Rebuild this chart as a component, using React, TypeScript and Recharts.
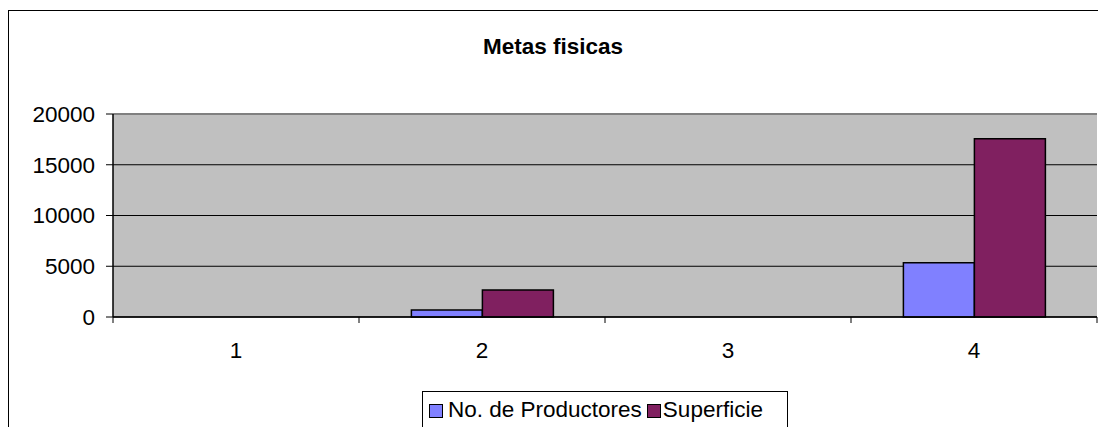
import React from "react";
import { BarChart, Bar, XAxis, YAxis, CartesianGrid, ReferenceLine } from "recharts";

const categories = ["1", "2", "3", "4"];
const productores = [0, 690, 0, 5350];
const superficie = [0, 2660, 0, 17550];
const yTicks = [0, 5000, 10000, 15000, 20000];

const data = categories.map((c, i) => ({
    cat: c,
    productores: productores[i],
    superficie: superficie[i],
}));

const W = 1098;
const H = 417;
const margin = { top: 104, right: 9, left: 0, bottom: 0 };
const yAxisWidth = 105;
const halfBand = (W - margin.right - yAxisWidth) / categories.length / 2;
const font = "'Liberation Sans', Arial, sans-serif";
const fs = 22.5;

const BLUE = "#8080ff";
const PURPLE = "#802060";

function XTick(props: any) {
    const { x, y, payload, index } = props;
    const last = index === categories.length - 1;
    return (
        <g>
            <line x1={x - halfBand} y1={y} x2={x - halfBand} y2={y + 6} stroke="#000" />
            {last && <line x1={x + halfBand} y1={y} x2={x + halfBand} y2={y + 6} stroke="#000" />}
            <text x={x} y={y + 41} textAnchor="middle" fontSize={fs} fontFamily={font} fill="#000">
                {payload.value}
            </text>
        </g>
    );
}

export default function App() {
    return (
        <div style={{ position: "relative", width: W, height: H, marginTop: 2, fontFamily: font, overflow: "hidden" }}>
            <div style={{ position: "absolute", left: 0, top: 0, width: W + 20, height: H + 20, borderTop: "1.5px solid #000", borderLeft: "1.5px solid #000" }} />
            <div style={{ position: "absolute", left: 0, top: 23, width: 1090, textAlign: "center", fontSize: 22.5, lineHeight: "27px", fontWeight: "bold" }}>
                Metas fisicas
            </div>
            <BarChart width={W} height={H} data={data} margin={margin} barCategoryGap="21.3%" barGap={0}>
                <CartesianGrid vertical={false} fill="#c0c0c0" stroke="#000" strokeOpacity={1} />
                <XAxis dataKey="cat" height={110} tick={<XTick />} tickLine={false} tickSize={0} tickMargin={0} axisLine={{ stroke: "#000", strokeWidth: 1.5 }} interval={0} />
                <YAxis
                    width={yAxisWidth}
                    domain={[0, 20000]}
                    ticks={yTicks}
                    interval={0}
                    tickSize={7}
                    tickMargin={11}
                    tick={{ fill: "#000", fontSize: fs, fontFamily: font }}
                    tickLine={{ stroke: "#000" }}
                    axisLine={{ stroke: "#000", strokeWidth: 1.5 }}
                />
                <YAxis yAxisId="r" orientation="right" width={0} tick={false} tickLine={false} axisLine={{ stroke: "#808080", strokeWidth: 2 }} />
                <ReferenceLine y={20000} stroke="#808080" strokeWidth={2} />
                <Bar dataKey="productores" fill={BLUE} stroke="#000" strokeWidth={1.5} isAnimationActive={false} />
                <Bar dataKey="superficie" fill={PURPLE} stroke="#000" strokeWidth={1.5} isAnimationActive={false} />
            </BarChart>
            <div style={{ position: "absolute", left: 414, top: 381, width: 366, height: 50, border: "1px solid #000", boxSizing: "border-box", display: "flex", alignItems: "flex-start", paddingTop: 5, paddingLeft: 6, fontSize: fs, lineHeight: "26px", whiteSpace: "nowrap" }}>
                <span style={{ display: "inline-block", width: 12, height: 12, background: BLUE, border: "1.5px solid #000", marginTop: 7, marginRight: 5 }} />
                <span style={{ marginRight: 5 }}>No. de Productores</span>
                <span style={{ display: "inline-block", width: 12, height: 12, background: PURPLE, border: "1.5px solid #000", marginTop: 7, marginRight: 2 }} />
                <span>Superficie</span>
            </div>
        </div>
    );
}
